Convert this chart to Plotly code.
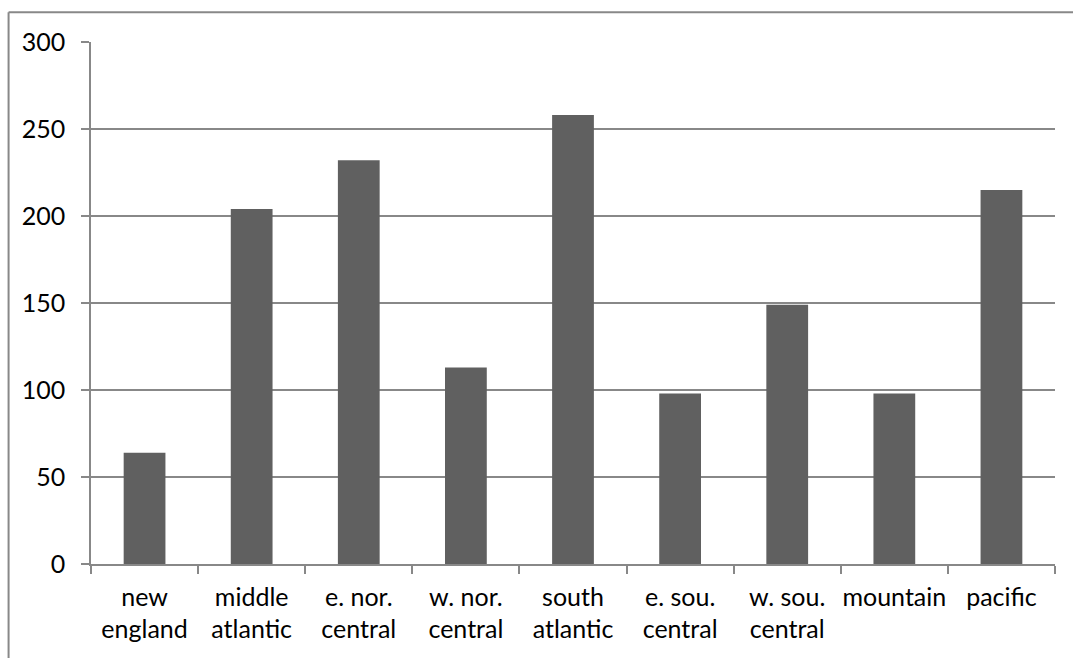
import plotly.graph_objects as go

# Census divisions and their counts
regions = ["new england", "middle atlantic", "e. nor. central", "w. nor. central",
           "south atlantic", "e. sou. central", "w. sou. central", "mountain", "pacific"]
tick_labels = ["new<br>england", "middle<br>atlantic", "e. nor.<br>central", "w. nor.<br>central",
               "south<br>atlantic", "e. sou.<br>central", "w. sou.<br>central", "mountain", "pacific"]
counts = [64, 204, 232, 113, 258, 98, 149, 98, 215]
y_ticks = [0, 50, 100, 150, 200, 250, 300]

GRID = "#888888"
FONT = dict(family="Lato, 'Open Sans', sans-serif", size=25, color="#000000")

fig = go.Figure(
    go.Bar(
        x=regions,
        y=counts,
        marker=dict(color="#606060", line=dict(width=0)),
        width=0.39,
    )
)

fig.update_layout(
    width=1073,
    height=658,
    margin=dict(l=91, r=18, t=42, b=94),
    paper_bgcolor="white",
    plot_bgcolor="white",
    showlegend=False,
    font=FONT,
    shapes=[
        # chart-area frame (left and top edges)
        dict(type="line", xref="paper", yref="paper", x0=-0.0855, x1=-0.0855,
             y0=-0.3, y1=1.0568, line=dict(color=GRID, width=2)),
        dict(type="line", xref="paper", yref="paper", x0=-0.0855, x1=1.1,
             y0=1.0568, y1=1.0568, line=dict(color=GRID, width=2)),
    ],
)

fig.update_xaxes(
    tickmode="array",
    tickvals=regions,
    ticktext=tick_labels,
    tickson="boundaries",
    ticks="outside",
    ticklen=8,
    tickwidth=1.5,
    tickcolor=GRID,
    showline=True,
    linecolor=GRID,
    linewidth=1.5,
    showgrid=False,
    tickangle=0,
    tickfont=FONT,
    ticklabelstandoff=10,
)

fig.update_yaxes(
    range=[0, 300],
    tickmode="array",
    tickvals=y_ticks,
    ticks="outside",
    ticklen=8,
    tickwidth=1.5,
    tickcolor=GRID,
    showline=True,
    linecolor=GRID,
    linewidth=1.5,
    showgrid=True,
    gridcolor=GRID,
    gridwidth=1.5,
    zeroline=False,
    tickfont=FONT,
    ticklabelstandoff=11,
)

fig.write_html("out.html")
